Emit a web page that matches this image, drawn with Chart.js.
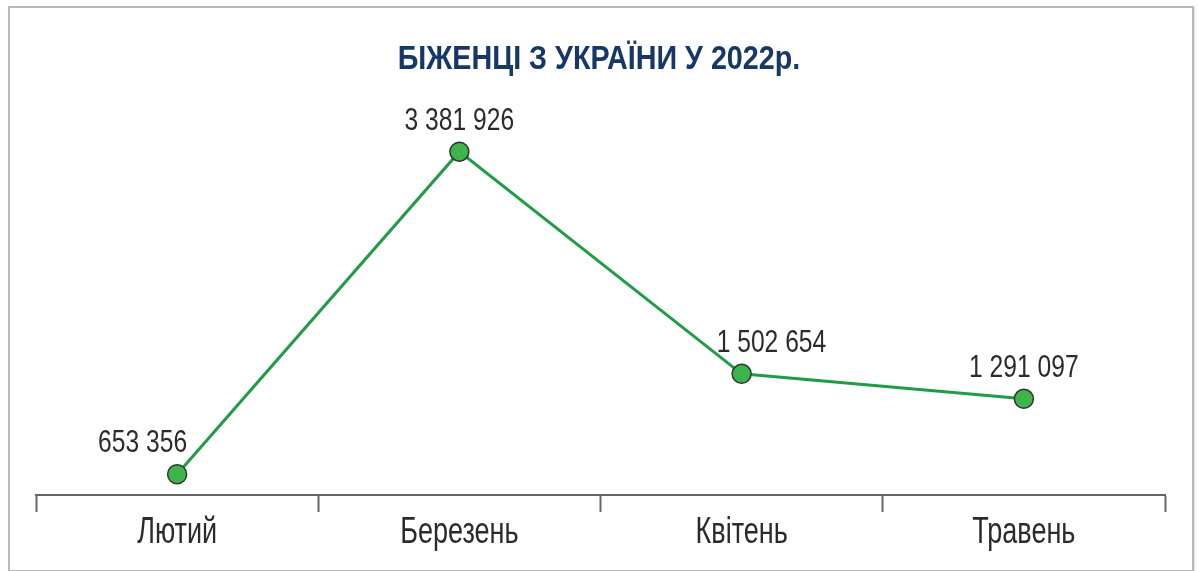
<!DOCTYPE html>
<html>
<head>
<meta charset="utf-8">
<script src="https://cdn.jsdelivr.net/npm/chart.js@4"></script>
<style>
  html, body { margin: 0; padding: 0; background: #fff; }
  #frame {
    position: absolute; left: 8px; top: 6px; width: 1182px; height: 562px;
    border: 2px solid #b9b9b9; box-shadow: 1px 1px 2px #ddd;
  }
  #wrap { position: absolute; left: 0; top: 0; width: 1198px; height: 571px; }
</style>
</head>
<body>
<div id="frame"></div>
<div id="wrap"><canvas id="refugeesChart" width="1198" height="571"></canvas></div>
<script>
const title = "БІЖЕНЦІ З УКРАЇНИ У 2022р.";
const months = ["Лютий", "Березень", "Квітень", "Травень"];
const refugees = [653356, 3381926, 1502654, 1291097];
const yMin = 478000;
const yMax = 3819000;

const fontFamily = "'Liberation Sans', Arial, sans-serif";

// number like "3 381 926"
const fmt = (v) => String(v).replace(/\B(?=(\d{3})+(?!\d))/g, " ");

// labels above the points (align + small horizontal shift)
const labelAlign = ["right", "center", "left", "center"];
const labelShift = [10, 0, -25, 0];

// the original uses a condensed face, so squeeze text horizontally
function condensedText(ctx, text, x, y, sx, align) {
  ctx.save();
  ctx.translate(x, y);
  ctx.scale(sx, 1);
  ctx.textAlign = align;
  ctx.textBaseline = "alphabetic";
  ctx.fillText(text, 0, 0);
  ctx.restore();
}

const textLayer = {
  id: "textLayer",
  afterDraw(chart) {
    const ctx = chart.ctx;
    const xScale = chart.scales.x;
    const meta = chart.getDatasetMeta(0);

    // title
    ctx.font = "bold 33px " + fontFamily;
    ctx.fillStyle = "#173767";
    condensedText(ctx, title, chart.width / 2, 69, 0.87, "center");

    // values
    ctx.font = "32px " + fontFamily;
    ctx.fillStyle = "#2b2b2b";
    meta.data.forEach((pt, i) => {
      condensedText(ctx, fmt(refugees[i]), pt.x + labelShift[i], pt.y - 22, 0.77, labelAlign[i]);
    });

    // month labels under the axis
    ctx.font = "37px " + fontFamily;
    months.forEach((m, i) => {
      condensedText(ctx, m, xScale.getPixelForValue(i), xScale.bottom + 31, 0.73, "center");
    });
  },
};

const ctx = document.getElementById("refugeesChart").getContext("2d");
new Chart(ctx, {
  type: "line",
  data: {
    labels: months,
    datasets: [
      {
        data: refugees,
        borderColor: "#1f9c45",
        borderWidth: 3,
        pointRadius: 9.5,
        pointBackgroundColor: "#3db54a",
        pointBorderColor: "#333",
        pointBorderWidth: 1.5,
        tension: 0,
      },
    ],
  },
  options: {
    responsive: false,
    animation: false,
    layout: { padding: { top: 100, left: 36, right: 33, bottom: 59 } },
    plugins: {
      legend: { display: false },
      tooltip: { enabled: false },
      title: { display: false },
    },
    scales: {
      x: {
        offset: true,
        grid: {
          offset: true,
          drawOnChartArea: false,
          drawTicks: true,
          tickLength: 17,
          tickWidth: 2,
          tickColor: "#666",
        },
        border: { color: "#666", width: 2 },
        ticks: { display: false },
      },
      y: {
        display: false,
        min: yMin,
        max: yMax,
      },
    },
  },
  plugins: [textLayer],
});
</script>
</body>
</html>
